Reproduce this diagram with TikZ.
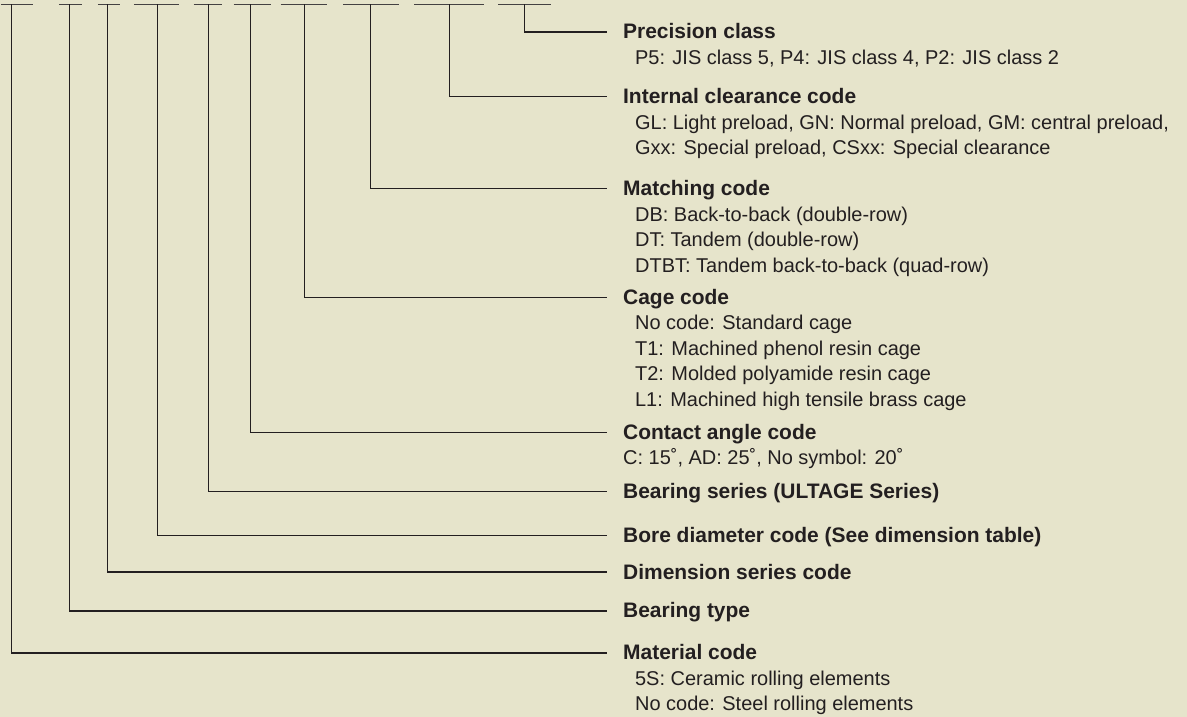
\documentclass[tikz,border=0pt]{standalone}
\usepackage{fontspec,xcolor}
\setmainfont{Liberation Sans}
\definecolor{paper}{HTML}{E6E4CB}
\definecolor{ink}{HTML}{231F20}
\newcommand{\hlabel}{\fontsize{21}{25.5}\selectfont\bfseries}
\newcommand{\hbody}{\fontsize{20}{25.5}\selectfont}

\begin{document}
\begin{tikzpicture}[x=1pt,y=-1pt,
  head/.style={anchor=base west,inner sep=0,font=\hlabel,text=ink,text height=15pt,text depth=1pt},
  body/.style={anchor=base west,inner sep=0,font=\hbody,text=ink,align=left},
  codeline/.style={ink!85,line width=1.5pt},
  lead/.style={ink,line width=1.2pt}]
\fill[paper] (-1,-1) rectangle (1188,717);
\useasboundingbox (0,0) rectangle (1187,716);
% underlines of the code letters (cut off at the top)
\foreach \a/\b in {0/32.5,58/81.5,97/119.5,133/178.5,193/221,233/270,280/326.5,343/399,414/484,498/551}
  \draw[codeline] (\a,3.5) -- (\b,3.5);
\coordinate (prec-t) at (524,3.5);
\coordinate (clr-t) at (449,3.5);
\coordinate (match-t) at (370.5,3.5);
\coordinate (cage-t) at (304,3.5);
\coordinate (angle-t) at (250,3.5);
\coordinate (series-t) at (208,3.5);
\coordinate (bore-t) at (156.5,3.5);
\coordinate (dim-t) at (107,3.5);
\coordinate (type-t) at (69,3.5);
\coordinate (mat-t) at (10.7,3.5);
% base of a body node = baseline of its last line
\node[head] (prec) at (623,38) {Precision class};
\node[body] (prec-d) at (635,63.5) {P5: JIS class 5, P4: JIS class 4, P2: JIS class 2};
\node[head] (clr) at (623,103) {Internal clearance code};
\node[body] (clr-d) at (635,154) {GL: Light preload, GN: Normal preload, GM: central preload,\\Gxx: Special preload, CSxx: Special clearance};
\node[head] (match) at (623,195) {Matching code};
\node[body] (match-d) at (635,271.5) {DB: Back-to-back (double-row)\\DT: Tandem (double-row)\\DTBT: Tandem back-to-back (quad-row)};
\node[head] (cage) at (623,304) {Cage code};
\node[body] (cage-d) at (635,406) {No code: Standard cage\\T1: Machined phenol resin cage\\T2: Molded polyamide resin cage\\L1: Machined high tensile brass cage};
\node[head] (angle) at (623,439) {Contact angle code};
\node[body] (angle-d) at (623,464.5) {C: 15˚, AD: 25˚, No symbol: 20˚};
\node[head] (series) at (623,498) {Bearing series (ULTAGE Series)};
\node[head] (bore) at (623,542) {Bore diameter code (See dimension table)};
\node[head] (dim) at (623,579) {Dimension series code};
\node[head] (type) at (623,618) {Bearing type};
\node[head] (mat) at (623,660) {Material code};
\node[body] (mat-d) at (635,711) {5S: Ceramic rolling elements\\No code: Steel rolling elements};
\foreach \n in {prec,clr,match,cage,angle,series,bore,dim,type,mat}
  \draw[lead] (\n-t) |- ([xshift=-16pt]\n.west);
\end{tikzpicture}
\end{document}
